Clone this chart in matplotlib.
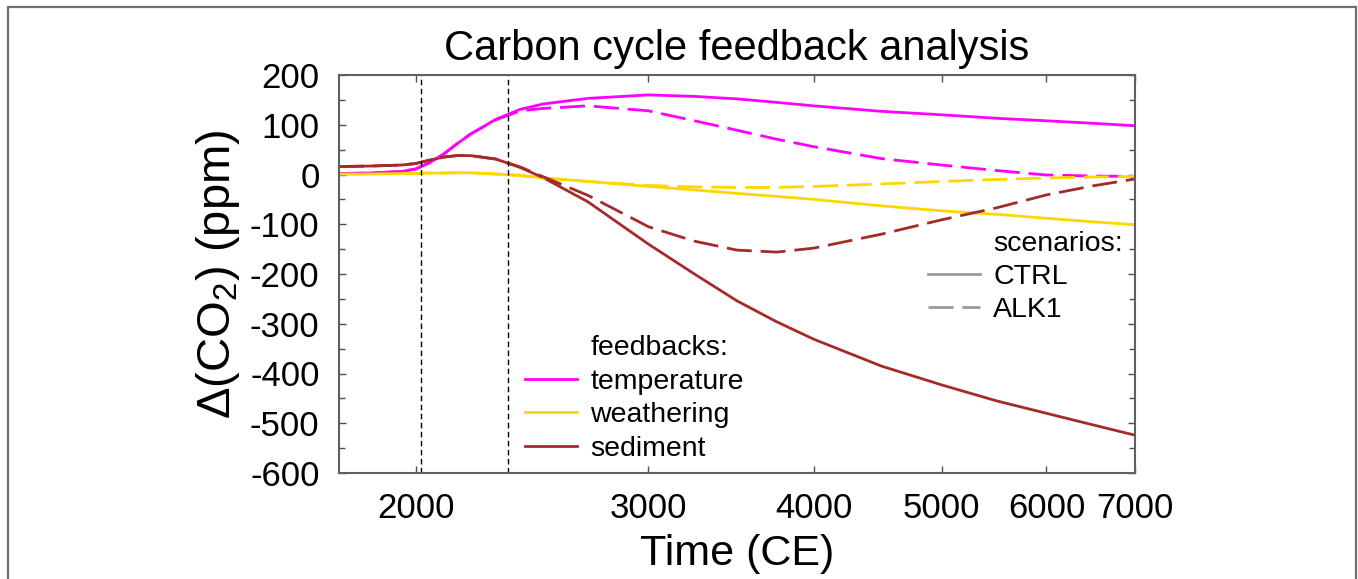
import matplotlib
matplotlib.use("Agg")
import matplotlib.pyplot as plt
from matplotlib.lines import Line2D
from matplotlib.patches import Rectangle
from matplotlib.ticker import FixedLocator, NullLocator, MultipleLocator

# --- Data ---
years = [1750, 1850, 1950, 2000, 2050, 2100, 2150, 2200, 2300, 2400, 2500,
         2700, 3000, 3250, 3500, 3750, 4000, 4500, 5000, 5500, 6000, 6500, 7000]

temp_ctrl = [2, 3, 6, 11, 24, 41, 62, 81, 111, 131, 142,
             153, 160, 157, 152, 145, 138, 127, 120, 113, 108, 103, 98]
temp_alk1 = [2, 3, 6, 11, 24, 41, 62, 81, 110, 128, 133,
             138, 128, 108, 89, 71, 56, 32, 19, 8, -1, -3, -4]

weath_ctrl = [1, 1, 2, 2, 3, 3, 3.5, 3.5, 1, -2, -7,
              -14, -24, -31, -38, -44, -50, -63, -73, -80, -88, -95, -101]
weath_alk1 = [1, 1, 2, 2, 3, 3, 3.5, 3.5, 1, -2, -7,
              -14, -22, -25, -26, -26, -24, -19, -14, -10, -7, -5, -4]

sed_ctrl = [16, 17, 19, 22, 29, 35, 38, 38, 31, 14, -7,
            -55, -140, -200, -254, -296, -331, -385, -423, -455, -480, -503, -524]
sed_alk1 = [16, 17, 19, 22, 29, 35, 38, 38, 31, 15, -5,
            -42, -105, -134, -152, -156, -148, -120, -91, -67, -41, -23, -9]

marker_years = [2020, 2350]
xticks = [2000, 3000, 4000, 5000, 6000, 7000]

feedbacks = ["temperature", "weathering", "sediment"]
colors = ["#ff00ff", "#ffd700", "#a52a2a"]

# --- Style ---
plt.rcParams["font.family"] = ["Liberation Sans", "DejaVu Sans"]
plt.rcParams["mathtext.fontset"] = "custom"
plt.rcParams["mathtext.rm"] = "Liberation Sans"
plt.rcParams["mathtext.default"] = "rm"
plt.rcParams["axes.unicode_minus"] = False

fig = plt.figure(figsize=(13.58, 5.79), dpi=100)
ax = fig.add_axes([339 / 1358, 1 - 473 / 579, 796 / 1358, 398 / 579])

# figure border (left, top, right)
fig.add_artist(Rectangle((8 / 1358, -0.1), 1348 / 1358, 1.1 - 7 / 579,
                         transform=fig.transFigure, fill=False,
                         edgecolor="#707070", lw=1.6))

lw = 2.0
dash = (9, 3.2)
series = [(temp_ctrl, temp_alk1), (weath_ctrl, weath_alk1), (sed_ctrl, sed_alk1)]
for (ctrl, alk), c in zip(series, colors):
    ax.plot(years, ctrl, color=c, lw=lw)
for (ctrl, alk), c in zip(series, colors):
    ax.plot(years, alk, color=c, lw=lw, dashes=dash)

for yr in marker_years:
    ax.axvline(yr, color="black", lw=1.0, dashes=(4, 2.5))

ax.set_xscale("log")
ax.set_xlim(1750, 7000)
ax.set_ylim(-600, 200)
ax.xaxis.set_major_locator(FixedLocator(xticks))
ax.xaxis.set_minor_locator(NullLocator())
ax.set_xticklabels([str(v) for v in xticks])
ax.yaxis.set_major_locator(MultipleLocator(100))
ax.yaxis.set_minor_locator(MultipleLocator(50))

ax.tick_params(which="both", direction="in", top=True, right=True,
               color="#505050", width=1.0)
ax.tick_params(which="major", length=5, labelsize=25)
ax.tick_params(which="minor", length=4)
ax.tick_params(axis="x", pad=14)
ax.tick_params(axis="y", pad=14)
for s in ax.spines.values():
    s.set_color("#606060")
    s.set_linewidth(1.5)

ax.set_title("Carbon cycle feedback analysis", fontsize=30, pad=11)
ax.set_xlabel("Time (CE)", fontsize=31, labelpad=6)
ax.set_ylabel("Δ(CO$_2$) (ppm)", fontsize=34, labelpad=6)

# feedbacks legend
leg_kw = dict(loc="upper left", frameon=False, fontsize=20.5,
              handlelength=1.83, handletextpad=0.46, labelspacing=0.26,
              borderaxespad=0, borderpad=0)
fb_handles = [Line2D([], [], color="none")] + \
    [Line2D([], [], color=c, lw=lw) for c in colors]
fb_labels = ["feedbacks:"] + feedbacks
leg1 = ax.legend(fb_handles, fb_labels, bbox_to_anchor=(0.2337, 0.3455),
                 **leg_kw)
ax.add_artist(leg1)

# scenarios legend
sc_handles = [Line2D([], [], color="none"),
              Line2D([], [], color="#999999", lw=lw),
              Line2D([], [], color="#999999", lw=lw, dashes=dash)]
sc_labels = ["scenarios:", "CTRL", "ALK1"]
ax.legend(sc_handles, sc_labels, bbox_to_anchor=(0.740, 0.609), **leg_kw)

fig.savefig("out.png", dpi=100)
